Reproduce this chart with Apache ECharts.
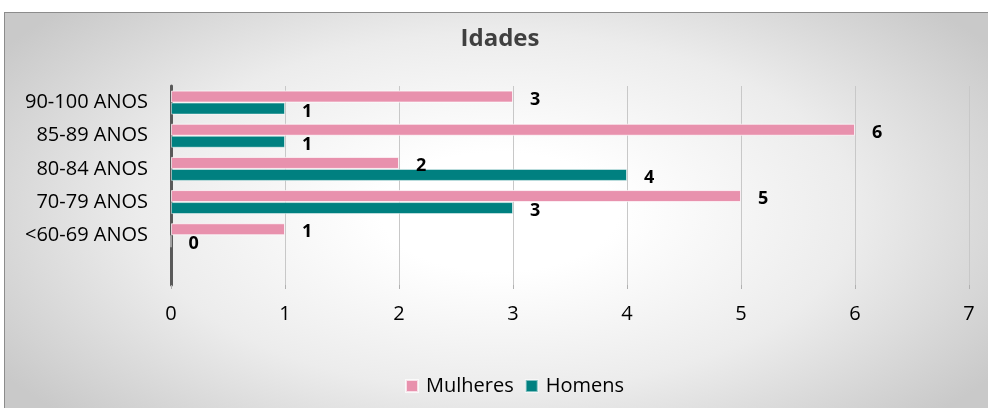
<!DOCTYPE html>
<html>
<head>
<meta charset="utf-8">
<script src="https://cdn.jsdelivr.net/npm/echarts@6/dist/echarts.min.js"></script>
<style>
  html, body { margin: 0; padding: 0; background: #fff; }
  #frame {
    position: absolute; left: 4px; top: 12px; width: 990px; height: 400px;
    box-sizing: border-box; border: 1px solid #8c8c8c;
    background: radial-gradient(ellipse 60% 75% at 50% 50%, #ffffff 20%, #ececec 60%, #c9c9c9 100%);
  }
  #chart { position: absolute; left: 0; top: 0; width: 988px; height: 408px; }
</style>
</head>
<body>
<div id="frame"></div>
<div id="chart"></div>
<script>
// categorias de baixo para cima (a ultima vazia deixa o espaco em baixo)
var categorias = ['', '<60-69 ANOS', '70-79 ANOS', '80-84 ANOS', '85-89 ANOS', '90-100 ANOS'];
var mulheres = [null, 1, 5, 2, 6, 3];
var homens = [null, 0, 3, 4, 1, 1];
var ticksX = [0, 1, 2, 3, 4, 5, 6, 7];

var myChart = echarts.init(document.getElementById('chart'));

var labelBold = {
  show: true,
  position: 'right',
  distance: 17,
  offset: [0, 3],
  color: '#000',
  fontWeight: 'bold',
  fontSize: 18,
  fontFamily: 'Open Sans'
};

myChart.setOption({
  title: {
    text: 'Idades',
    left: 495,
    top: 22,
    textAlign: 'center',
    textStyle: { color: '#404040', fontSize: 24, fontWeight: 'bold', fontFamily: 'Open Sans' }
  },
  legend: {
    data: ['Mulheres', 'Homens'],
    left: 400,
    top: 371,
    itemWidth: 12,
    itemHeight: 12,
    itemGap: 11,
    icon: 'rect',
    textStyle: { color: '#000', fontSize: 20, fontFamily: 'Open Sans', padding: [0, 0, 0, 3] }
  },
  grid: { left: 171, right: 19, top: 86, bottom: 123, containLabel: false },
  xAxis: {
    type: 'value',
    min: ticksX[0],
    max: ticksX[ticksX.length - 1],
    interval: 1,
    axisLine: { show: false },
    axisTick: { show: true, length: 4, lineStyle: { color: '#b0b0b0' } },
    axisLabel: { margin: 19, color: '#000', fontSize: 20, fontFamily: 'Open Sans' },
    splitLine: { show: true, lineStyle: { color: '#c8c8c8', width: 1 } }
  },
  yAxis: {
    type: 'category',
    data: categorias,
    axisLine: { show: true, lineStyle: { color: '#595959', width: 3 } },
    axisTick: { show: false },
    axisLabel: { margin: 23, color: '#000', fontSize: 20, fontFamily: 'Open Sans' }
  },
  series: [
    {
      name: 'Mulheres',
      type: 'bar',
      data: mulheres,
      barWidth: 12,
      barGap: '0%',
      itemStyle: { color: '#e891ad', borderColor: 'rgba(255,255,255,0.7)', borderWidth: 1 },
      label: labelBold
    },
    {
      name: 'Homens',
      type: 'bar',
      data: homens,
      barWidth: 12,
      barGap: '0%',
      itemStyle: { color: '#008080', borderColor: 'rgba(255,255,255,0.5)', borderWidth: 1 },
      label: labelBold
    }
  ]
});
</script>
</body>
</html>
